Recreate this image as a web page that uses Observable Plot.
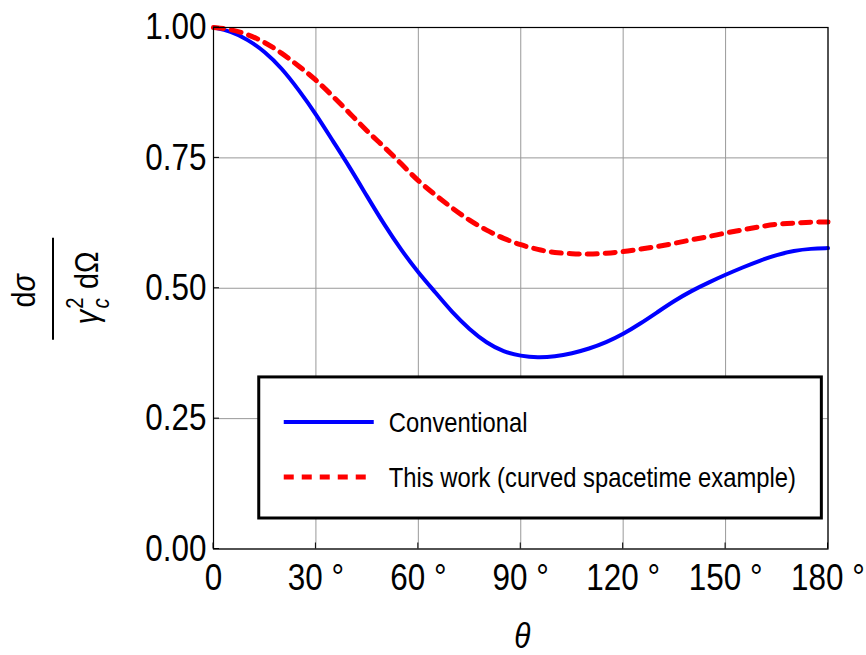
<!DOCTYPE html>
<html>
<head>
<meta charset="utf-8">
<script src="https://cdn.jsdelivr.net/npm/d3@7"></script>
<script src="https://cdn.jsdelivr.net/npm/@observablehq/plot@0.6"></script>
<style>
  html, body { margin: 0; padding: 0; background: #fff; }
  #chart svg { display: block; }
</style>
</head>
<body>
<div id="chart"></div>
<script>
// ---- data ----
const theta = [0, 5, 10, 15, 20, 25, 30, 35, 40, 45, 50, 55, 60, 65, 70, 75, 80, 85, 90, 95, 100, 105, 110, 115, 120, 125, 130, 135, 140, 145, 150, 155, 160, 165, 170, 175, 180];
const conventional = [1.000, 0.993, 0.977, 0.954, 0.922, 0.880, 0.834, 0.782, 0.731, 0.676, 0.622, 0.573, 0.530, 0.492, 0.453, 0.421, 0.395, 0.378, 0.370, 0.367, 0.369, 0.375, 0.384, 0.396, 0.412, 0.432, 0.454, 0.476, 0.495, 0.511, 0.526, 0.540, 0.553, 0.564, 0.572, 0.576, 0.577];
const thisWork = [1.000, 0.997, 0.987, 0.972, 0.951, 0.926, 0.900, 0.868, 0.835, 0.801, 0.771, 0.739, 0.705, 0.679, 0.653, 0.630, 0.611, 0.595, 0.583, 0.574, 0.568, 0.566, 0.565, 0.567, 0.570, 0.575, 0.580, 0.586, 0.593, 0.599, 0.606, 0.612, 0.618, 0.623, 0.625, 0.627, 0.627];
const seriesNames = ["Conventional", "This work (curved spacetime example)"];
const xTicks = [0, 30, 60, 90, 120, 150, 180];
const xTickLabels = ["0", "30 °", "60 °", "90 °", "120 °", "150 °", "180 °"];
const yTicks = [0, 0.25, 0.5, 0.75, 1.0];
const yTickLabels = ["0.00", "0.25", "0.50", "0.75", "1.00"];

const rows = [
  ...theta.map((t, i) => ({theta: t, value: conventional[i], series: seriesNames[0]})),
  ...theta.map((t, i) => ({theta: t, value: thisWork[i], series: seriesNames[1]}))
];

const FONT = "'Liberation Sans', Arial, sans-serif";
const SQ = 0.85; // horizontal condensing of the text
const BLUE = "#0000ff", RED = "#ff0000";

const plot = Plot.plot({
  width: 866,
  height: 655,
  marginLeft: 213,
  marginRight: 38.5,
  marginTop: 27,
  marginBottom: 106.5,
  style: {fontFamily: FONT, fontSize: "37px", background: "#fff", color: "#000"},
  x: {domain: [0, 180]},
  y: {domain: [0, 1]},
  marks: [
    Plot.gridX(xTicks, {stroke: "#999", strokeOpacity: 1, strokeWidth: 1}),
    Plot.gridY(yTicks, {stroke: "#999", strokeOpacity: 1, strokeWidth: 1}),
    Plot.line(rows.filter(d => d.series === seriesNames[0]), {
      x: "theta", y: "value", stroke: BLUE, strokeWidth: 4, curve: "basis"
    }),
    Plot.line(rows.filter(d => d.series === seriesNames[1]), {
      x: "theta", y: "value", stroke: RED, strokeWidth: 5, strokeDasharray: "10,8", curve: "basis"
    }),
    Plot.frame({stroke: "#000", strokeWidth: 1.2}),
    Plot.axisX({ticks: xTicks, tickFormat: d => xTickLabels[xTicks.indexOf(d)], tickSize: 0, tickPadding: 15, fontSize: 37, label: null}),
    Plot.axisY({ticks: yTicks, tickFormat: d => yTickLabels[yTicks.indexOf(d)], tickSize: 0, tickPadding: 7, fontSize: 37, label: null})
  ]
});

document.getElementById("chart").appendChild(plot);

// condense the axis tick labels horizontally (narrow sans look), keeping their positions
plot.querySelectorAll("text").forEach(el => {
  const w = el.getComputedTextLength();
  if (w > 0) {
    el.setAttribute("textLength", (w * SQ).toFixed(2));
    el.setAttribute("lengthAdjust", "spacingAndGlyphs");
  }
});

const svg = d3.select(plot);
const xs = plot.scale("x"), ys = plot.scale("y");
const x0 = xs.range[0], x1 = xs.range[1];
const yTop = ys.range[1], yBot = ys.range[0];

// small inward tick marks
const tk = svg.append("g").attr("stroke", "#000").attr("stroke-width", 1);
xTicks.forEach(t => { const px = xs.apply(t); tk.append("line").attr("x1", px).attr("x2", px).attr("y1", yBot).attr("y2", yBot - 6); });
yTicks.forEach(t => { const py = ys.apply(t); tk.append("line").attr("x1", x0).attr("x2", x0 + 6).attr("y1", py).attr("y2", py); });

// x axis title
svg.append("text")
  .attr("transform", `translate(${(x0 + x1) / 2 + 2},648) scale(${SQ},1)`)
  .attr("text-anchor", "middle")
  .attr("font-family", FONT).attr("font-size", 35).attr("font-style", "italic")
  .text("θ");

// y axis title: fraction dσ / (γ_c^2 dΩ), rotated
const yl = svg.append("g").attr("transform", `translate(53, ${(yTop + yBot) / 2 + 1}) rotate(-90)`)
  .attr("font-family", FONT).attr("font-size", 34).attr("text-anchor", "middle");
yl.append("line").attr("x1", -51).attr("x2", 51).attr("y1", 0).attr("y2", 0).attr("stroke", "#000").attr("stroke-width", 2);
const num = yl.append("text").attr("transform", `translate(-2,-18) scale(${SQ},1)`);
num.append("tspan").text("d");
num.append("tspan").attr("font-style", "italic").text("σ");
const den = yl.append("text").attr("transform", `translate(1,45) scale(${SQ},1)`);
den.append("tspan").attr("font-style", "italic").text("γ");
den.append("tspan").attr("font-size", 24).attr("dy", -15).attr("dx", 1).text("2");
den.append("tspan").attr("font-size", 24).attr("font-style", "italic").attr("dy", 26).attr("dx", -13).text("c");
den.append("tspan").attr("dy", -11).attr("dx", 11).text("dΩ");

// legend box
const lgX0 = xs.apply(13.4), lgX1 = xs.apply(178.2);
const lgY0 = ys.apply(0.329), lgY1 = ys.apply(0.0585);
const lg = svg.append("g").attr("text-anchor", "start");
lg.append("rect").attr("x", lgX0).attr("y", lgY0).attr("width", lgX1 - lgX0).attr("height", lgY1 - lgY0)
  .attr("fill", "#fff").attr("stroke", "#000").attr("stroke-width", 3);
const items = [
  {name: seriesNames[0], stroke: BLUE, width: 4, dash: null},
  {name: seriesNames[1], stroke: RED, width: 5, dash: "10,8"}
];
items.forEach((it, i) => {
  const cy = lgY0 + 45 + i * 55;
  const ln = lg.append("line").attr("x1", lgX0 + 25).attr("x2", lgX0 + 115).attr("y1", cy).attr("y2", cy)
    .attr("stroke", it.stroke).attr("stroke-width", it.width);
  if (it.dash) ln.attr("stroke-dasharray", it.dash);
  lg.append("text").attr("transform", `translate(${lgX0 + 130},${cy + 10}) scale(${SQ},1)`)
    .attr("font-family", FONT).attr("font-size", 28).text(it.name);
});
</script>
</body>
</html>
